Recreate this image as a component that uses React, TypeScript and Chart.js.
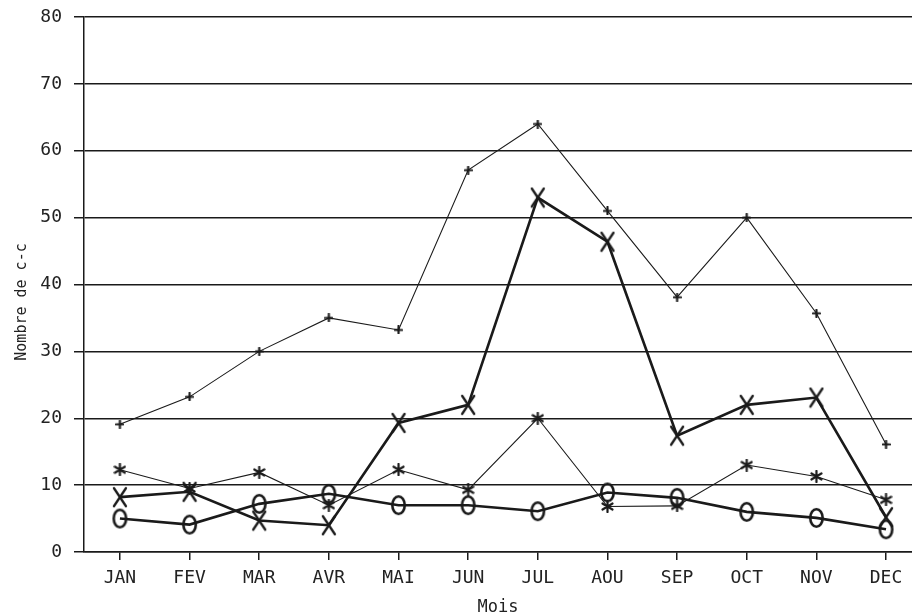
import React, { useEffect, useRef } from "react";
import { Chart, registerables } from "chart.js";

Chart.register(...registerables);

const months = ["JAN", "FEV", "MAR", "AVR", "MAI", "JUN", "JUL", "AOU", "SEP", "OCT", "NOV", "DEC"];
const seriesPlus = [19.1, 23.2, 30, 35, 33.2, 57.1, 64, 51, 38.1, 50, 35.7, 16.1];
const seriesX = [8.2, 9, 4.7, 4, 19.3, 22, 53, 46.4, 17.4, 22, 23.1, 5.2];
const seriesStar = [12.3, 9.5, 11.9, 7, 12.3, 9.3, 20, 6.8, 6.9, 13, 11.3, 7.8];
const seriesO = [5, 4.1, 7.2, 8.7, 7, 7, 6.1, 8.9, 8.1, 6, 5.1, 3.4];
const yTicks = [0, 10, 20, 30, 40, 50, 60, 70, 80];

const INK = "#1a1a1a";
const FONT = "'DejaVu Sans Mono', 'Liberation Mono', monospace";

function makeCanvas(w: number, h: number, draw: (c: CanvasRenderingContext2D) => void) {
  const cv = document.createElement("canvas");
  cv.width = w;
  cv.height = h;
  const ctx = cv.getContext("2d")!;
  ctx.strokeStyle = INK;
  ctx.lineCap = "round";
  draw(ctx);
  return cv;
}

const markX = makeCanvas(16, 22, (c) => {
  c.lineWidth = 2.3;
  c.beginPath();
  c.moveTo(2, 2); c.lineTo(14, 20);
  c.moveTo(14, 2); c.lineTo(2, 20);
  c.stroke();
});
const markO = makeCanvas(17, 22, (c) => {
  c.lineWidth = 2.6;
  c.beginPath();
  c.ellipse(8.5, 11, 6.2, 8.8, 0, 0, Math.PI * 2);
  c.stroke();
});
const markStar = makeCanvas(13, 13, (c) => {
  c.lineWidth = 2.2;
  c.beginPath();
  c.moveTo(6.5, 1); c.lineTo(6.5, 12);
  c.moveTo(1.5, 3.5); c.lineTo(11.5, 9.5);
  c.moveTo(11.5, 3.5); c.lineTo(1.5, 9.5);
  c.stroke();
});
const markPlus = makeCanvas(9, 9, (c) => {
  c.lineWidth = 2.2;
  c.beginPath();
  c.moveTo(4.5, 1); c.lineTo(4.5, 8);
  c.moveTo(1, 4.5); c.lineTo(8, 4.5);
  c.stroke();
});

const toPts = (arr: number[]) => arr.map((y, i) => ({ x: i, y }));

const yTitlePlugin = {
  id: "yTitle",
  afterDraw(chart: any) {
    const ctx = chart.ctx;
    ctx.save();
    ctx.translate(22, 302);
    ctx.rotate(-Math.PI / 2);
    ctx.font = `15px ${FONT}`;
    ctx.fillStyle = "#222";
    ctx.textAlign = "center";
    ctx.textBaseline = "middle";
    ctx.fillText("Nombre de c-c", 0, 0);
    ctx.restore();
  },
};

export default function App() {
  const ref = useRef<HTMLCanvasElement>(null);
  useEffect(() => {
    const ds = (data: number[], img: HTMLCanvasElement, width: number) => ({
      data: toPts(data),
      borderColor: INK,
      borderWidth: width,
      pointStyle: img as any,
      pointRadius: 6,
      tension: 0,
      fill: false,
    });
    const chart = new Chart(ref.current!, {
      type: "line",
      data: {
        datasets: [
          ds(seriesPlus, markPlus, 1.1),
          ds(seriesX, markX, 2.6),
          ds(seriesStar, markStar, 1.1),
          ds(seriesO, markO, 2.6),
        ],
      },
      options: {
        animation: false,
        responsive: false,
        layout: { autoPadding: false, padding: { top: 17, right: 0, left: 0, bottom: 0 } },
        plugins: { legend: { display: false }, tooltip: { enabled: false } },
        scales: {
          x: {
            type: "linear",
            min: -0.516,
            max: 11.373,
            afterFit: (s: any) => { s.height = 62; s.paddingLeft = 0; s.paddingRight = 0; },
            afterBuildTicks: (s: any) => { s.ticks = months.map((_, i) => ({ value: i })); },
            ticks: {
              font: { family: FONT, size: 18 },
              color: "#222",
              padding: 8,
              autoSkip: false,
              maxRotation: 0,
              callback: (v: any) => months[v as number] ?? "",
            },
            grid: { drawOnChartArea: false, drawTicks: true, tickLength: 8, color: INK, lineWidth: 1.5 },
            border: { display: true, color: INK, width: 1.5 },
            title: {
              display: true,
              text: "Mois",
              font: { family: FONT, size: 17, lineHeight: 0.8 },
              color: "#222",
              padding: 0,
            },
          },
          y: {
            min: 0,
            max: 80,
            afterFit: (s: any) => { s.width = 84; s.paddingTop = 0; s.paddingBottom = 0; },
            afterBuildTicks: (s: any) => { s.ticks = yTicks.map((v) => ({ value: v })); },
            ticks: {
              font: { family: FONT, size: 18 },
              color: "#222",
              padding: 12,
            },
            grid: { color: INK, lineWidth: 1.5, tickLength: 10, drawTicks: true },
            border: { display: true, color: INK, width: 1.5 },
          },
        },
      },
      plugins: [yTitlePlugin],
    });
    return () => chart.destroy();
  }, []);
  return (
    <div style={{ position: "fixed", left: 0, top: 0, width: 912, height: 614, background: "#fff" }}>
      <canvas ref={ref} width={912} height={614} />
    </div>
  );
}
